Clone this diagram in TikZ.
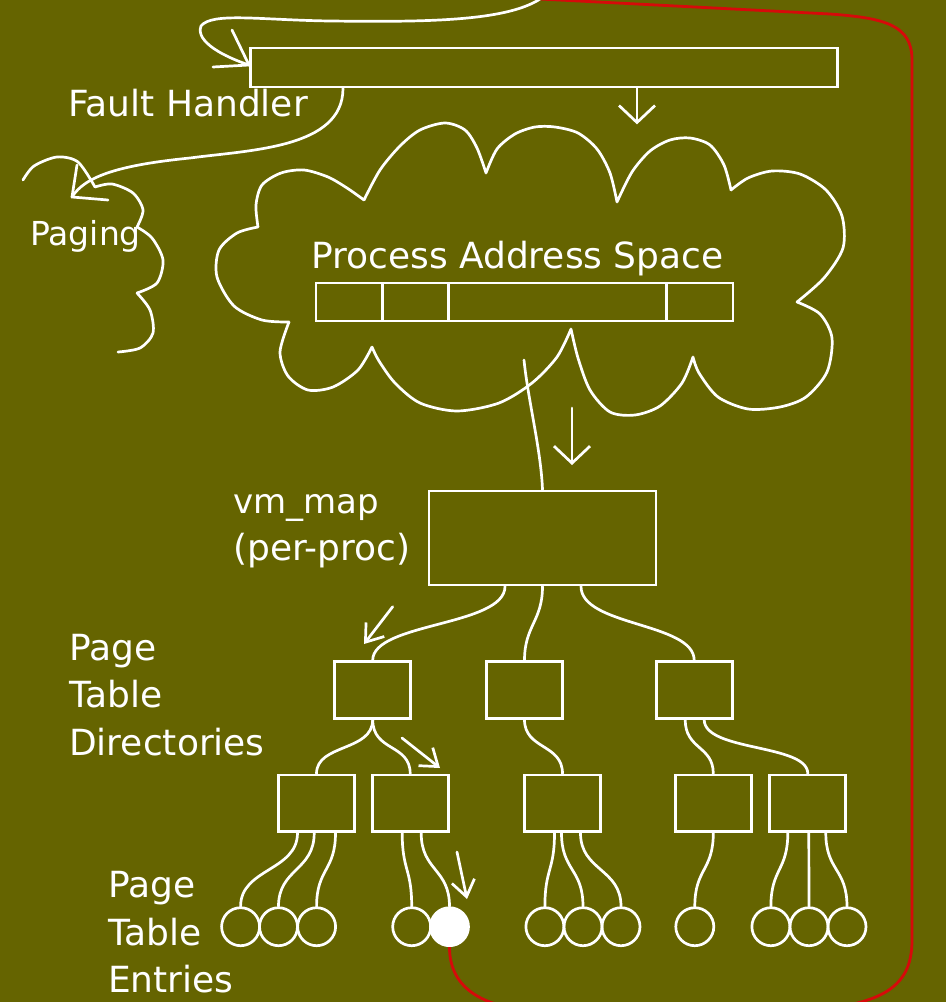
\documentclass[tikz,border=0pt]{standalone}
\usepackage{fontspec}
\setmainfont{DejaVu Sans}
\usetikzlibrary{arrows.meta}
\definecolor{olivebg}{RGB}{101,100,0}
\definecolor{redline}{RGB}{214,10,10}
\begin{document}
\begin{tikzpicture}[x=1pt,y=-1pt,
  wl/.style={draw=white,line width=2.7pt,line cap=round,line join=round},
  box/.style={draw=white,line width=2.7pt,rectangle,inner sep=0pt,minimum width=76pt,minimum height=56.6pt},
  pte/.style={draw=white,line width=2.7pt,circle,inner sep=0pt,minimum size=38pt},
  lbl/.style={text=white,anchor=base west,inner sep=0pt,font=\fontsize{36}{42}\selectfont},
  sarr/.style={wl,-{Straight Barb[length=16pt,width=23pt]}},
  barr/.style={wl,-{Straight Barb[length=17pt,width=36pt]}},
  redl/.style={draw=redline,line width=2.8pt}
]
\useasboundingbox (0,0) rectangle (946,1002);
\fill[olivebg] (0,0) rectangle (946,1002);
\clip (0,0) rectangle (946,1002);

% ---------- nodes ----------
\node[box,minimum width=587pt,minimum height=39pt] (fh) at (544,67.5) {};
\node[box,minimum width=66.4pt,minimum height=38pt] (c1) at (349.2,302) {};
\node[box,minimum width=66.4pt,minimum height=38pt] (c2) at (415.6,302) {};
\node[box,minimum width=217.6pt,minimum height=38pt] (c3) at (557.6,302) {};
\node[box,minimum width=66.6pt,minimum height=38pt] (c4) at (699.7,302) {};
\node[box,minimum width=227pt,minimum height=94pt] (vm) at (542.5,538) {};
\node[box] (A) at (372.7,690) {};
\node[box] (B) at (524.5,690) {};
\node[box] (C) at (694.2,690) {};
\node[box] (L1) at (316.5,803.3) {};
\node[box] (L2) at (410.2,803.3) {};
\node[box] (L3) at (562.5,803.3) {};
\node[box] (L4) at (713.3,803.3) {};
\node[box] (L5) at (807.8,803.3) {};
\node[pte] (e1) at (240.6,926.7) {};
\node[pte] (e2) at (278.5,926.7) {};
\node[pte] (e3) at (316.6,926.7) {};
\node[pte] (e4) at (411.7,926.7) {};
\node[pte,fill=white] (e5) at (449.5,926.7) {};
\node[pte] (e6) at (544.9,926.7) {};
\node[pte] (e7) at (583,926.7) {};
\node[pte] (e8) at (621,926.7) {};
\node[pte] (e9) at (694.8,926.7) {};
\node[pte] (e10) at (770.9,926.7) {};
\node[pte] (e11) at (809,926.7) {};
\node[pte] (e12) at (847,926.7) {};

% ---------- labels ----------
\node[lbl] (tfh) at (68,116) {Fault Handler};
\node[lbl,font=\fontsize{33}{40}\selectfont] (tpg) at (30,245) {Paging};
\node[lbl] (tpas) at (311,268.5) {Process Address Space};
\node[lbl,font=\fontsize{34}{40}\selectfont] (tvm1) at (233,513) {vm\_map};
\node[lbl] (tvm2) at (233,560) {(per-proc)};
\node[lbl] (td1) at (69,660) {Page};
\node[lbl] (td2) at (69,707) {Table};
\node[lbl] (td3) at (69,755) {Directories};
\node[lbl] (te1) at (108,897) {Page};
\node[lbl] (te2) at (108,945) {Table};
\node[lbl] (te3) at (108,992) {Entries};

% ---------- clouds ----------
\draw[wl] plot[smooth] coordinates {(258,227) (256,205) (262,185) (281,173) (304,170) (328,177) (347,188) (364,200)}
  plot[smooth] coordinates {(364,200) (380,170) (400,146) (420,130) (445,123) (465,130) (477,148) (486,173)}
  plot[smooth] coordinates {(486,173) (497,149) (515,134) (535,127) (555,127) (578,133) (597,149) (610,173) (617,202)}
  plot[smooth] coordinates {(617,202) (632,172) (650,151) (670,140) (690,138) (710,145) (724,165) (731,190)}
  plot[smooth] coordinates {(731,190) (748,178) (772,171) (800,174) (826,190) (842,216) (843,248) (824,278) (797,302)}
  plot[smooth] coordinates {(797,302) (820,314) (832,338) (827,372) (806,397) (780,407) (748,409) (718,397) (699,373) (693,357)}
  plot[smooth] coordinates {(693,357) (682,383) (660,406) (635,415) (610,412) (590,390) (578,358) (571,329)}
  plot[smooth] coordinates {(571,329) (557,357) (532,383) (499,403) (457,411) (420,403) (395,383) (379,361) (372,347)}
  plot[smooth] coordinates {(372,347) (358,370) (333,387) (308,390) (288,376) (280,352) (289,322)}
  plot[smooth] coordinates {(289,322) (262,320) (234,306) (217,277) (219,250) (237,233) (258,227)};
\draw[wl] plot[smooth] coordinates {(23,180) (34,166) (57,157) (78,162) (95,187)}
  plot[smooth] coordinates {(95,187) (112,184) (133,193) (143,210) (137,227)}
  plot[smooth] coordinates {(137,227) (152,238) (163,260) (157,283) (137,293)}
  plot[smooth] coordinates {(137,293) (150,310) (153,333) (140,348) (118,352)};

% ---------- coordinates ----------
\coordinate (top) at (540,-1);
\coordinate (tipT) at (249,65);
\coordinate (tipP) at (72,197);
\coordinate (pasin) at (524,360);
\coordinate (a1s) at (392.7,606.7);
\coordinate (a1e) at (364,644);
\coordinate (a2s) at (402,738);
\coordinate (a2e) at (440,768);
\coordinate (a3s) at (457,852);
\coordinate (a3e) at (467,899);
\coordinate (a5s) at (572,408);
\coordinate (a5e) at (572,465);

% ---------- red loop ----------
\draw[redl] (e5.south) .. controls +(0,40) and (480,1012) .. (560,1012) -- (780,1012)
  .. controls (880,1008) and (912,990) .. (912,940) -- (912,60)
  .. controls (912,25) and (885,18) .. (830,14) -- (top);

% ---------- white connectors ----------
\draw[wl] (top) .. controls (505,22) and (420,22) .. (330,21) .. controls (260,20) and (212,12) .. (201,26)
  .. controls (195,42) and (225,57) .. (tipT);
\draw[wl] ([shift={(-17,-35)}]tipT) -- (tipT) -- ([shift={(-36,2)}]tipT);
\draw[wl] ([xshift=-201pt]fh.south) .. controls +(0,60) and (250,150) .. (190,158)
  .. controls (120,165) and (85,176) .. (tipP);
\draw[wl] ([shift={(5,-32)}]tipP) -- (tipP) -- ([shift={(36,3)}]tipP);
\draw[barr] ([xshift=93pt]fh.south) -- ++(0,36);
\draw[wl] (pasin) .. controls (528,400) and (541,450) .. (vm.north);
\draw[barr] (a5s) -- (a5e);

\draw[wl] ([xshift=-37.5pt]vm.south) .. controls +(0,40) and +(0,-38) .. (A.north);
\draw[wl] (vm.south) .. controls +(0,35) and +(0,-35) .. (B.north);
\draw[wl] ([xshift=38.5pt]vm.south) .. controls +(0,40) and +(0,-38) .. (C.north);
\draw[sarr] (a1s) -- (a1e);

\draw[wl] (A.south) .. controls +(0,32) and +(0,-30) .. (L1.north);
\draw[wl] (A.south) .. controls +(0,32) and +(0,-30) .. (L2.north);
\draw[wl] (B.south) .. controls +(0,30) and +(0,-30) .. (L3.north);
\draw[wl] ([xshift=-9pt]C.south) .. controls +(0,30) and +(0,-28) .. (L4.north);
\draw[wl] ([xshift=10pt]C.south) .. controls +(0,32) and +(0,-30) .. (L5.north);
\draw[sarr] (a2s) -- (a2e);

\draw[wl] ([xshift=-19pt]L1.south) .. controls +(0,38) and +(0,-38) .. (e1.north);
\draw[wl] ([xshift=-2.3pt]L1.south) .. controls +(0,38) and +(0,-38) .. (e2.north);
\draw[wl] ([xshift=19pt]L1.south) .. controls +(0,38) and +(0,-38) .. (e3.north);
\draw[wl] ([xshift=-8pt]L2.south) .. controls +(0,38) and +(0,-38) .. (e4.north);
\draw[wl] ([xshift=11pt]L2.south) .. controls +(0,38) and +(0,-38) .. (e5.north);
\draw[wl] ([xshift=-8pt]L3.south) .. controls +(0,38) and +(0,-38) .. (e6.north);
\draw[wl] ([xshift=-1pt]L3.south) .. controls +(0,38) and +(0,-38) .. (e7.north);
\draw[wl] ([xshift=18pt]L3.south) .. controls +(0,38) and +(0,-38) .. (e8.north);
\draw[wl] (L4.south) .. controls +(0,38) and +(0,-38) .. (e9.north);
\draw[wl] ([xshift=-20pt]L5.south) .. controls +(0,38) and +(0,-38) .. (e10.north);
\draw[wl] ([xshift=1pt]L5.south) -- (e11.north);
\draw[wl] ([xshift=18pt]L5.south) .. controls +(0,38) and +(0,-38) .. (e12.north);
\draw[sarr] (a3s) -- (a3e);
\end{tikzpicture}
\end{document}
